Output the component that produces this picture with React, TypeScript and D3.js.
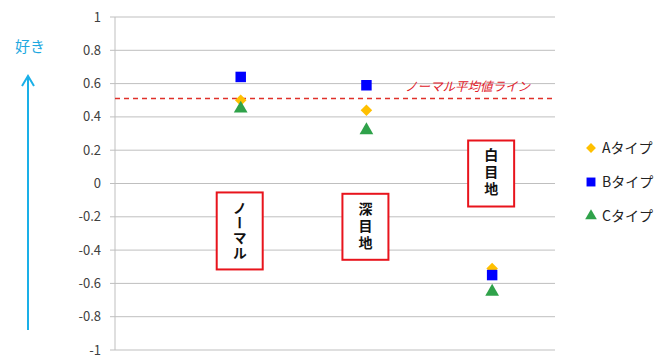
import React, { useEffect, useRef } from 'react';
import * as d3 from 'd3';

const categories = ['ノーマル', '深目地', '白目地'];
const seriesNames = ['Aタイプ', 'Bタイプ', 'Cタイプ'];
const aValues = [0.5, 0.44, -0.51];
const bValues = [0.64, 0.59, -0.55];
const cValues = [0.45, 0.32, -0.65];
const yTicks = [1, 0.8, 0.6, 0.4, 0.2, 0, -0.2, -0.4, -0.6, -0.8, -1];
const normalAverage = 0.51;
// centre of each vertical label box, in value units
const labelCenters = [-0.285, -0.26, 0.06];

const FONT = '"Noto Sans CJK JP", "Noto Sans", sans-serif';

const App = () => {
  const svgRef = useRef(null);

  useEffect(() => {
    const width = 670;
    const height = 356;
    const svg = d3.select(svgRef.current);
    svg.selectAll('*').remove();
    svg.attr('width', width).attr('height', height);

    const x = d3.scaleLinear().domain([0, 3.5]).range([115, 555]);
    const y = d3.scaleLinear().domain([-1, 1]).range([350, 17]);

    // grid
    svg.append('g')
      .selectAll('line')
      .data(yTicks)
      .enter()
      .append('line')
      .attr('x1', 110)
      .attr('x2', 555)
      .attr('y1', d => y(d))
      .attr('y2', d => y(d))
      .attr('stroke', '#bfbfbf')
      .attr('stroke-width', 1);

    svg.append('line')
      .attr('x1', 115).attr('x2', 115)
      .attr('y1', y(1)).attr('y2', y(-1))
      .attr('stroke', '#bfbfbf');

    svg.append('g')
      .selectAll('text')
      .data(yTicks)
      .enter()
      .append('text')
      .attr('x', 101)
      .attr('y', d => y(d))
      .attr('dy', '0.35em')
      .attr('text-anchor', 'end')
      .attr('font-family', FONT)
      .attr('font-size', 13)
      .attr('fill', '#404040')
      .text(d => String(d));

    // normal average line
    svg.append('line')
      .attr('x1', 115).attr('x2', 555)
      .attr('y1', y(normalAverage)).attr('y2', y(normalAverage))
      .attr('stroke', '#e0302a')
      .attr('stroke-width', 1.5)
      .attr('stroke-dasharray', '5,4');

    svg.append('text')
      .attr('x', 405)
      .attr('y', y(normalAverage) - 8)
      .attr('font-family', FONT)
      .attr('font-size', 12.5)
      .attr('font-style', 'italic')
      .attr('fill', '#e0202a')
      .text('ノーマル平均値ライン');

    // left label + arrow
    svg.append('text')
      .attr('x', 30)
      .attr('y', 52)
      .attr('text-anchor', 'middle')
      .attr('font-family', FONT)
      .attr('font-size', 15)
      .attr('fill', '#1ea8e0')
      .text('好き');
    svg.append('line')
      .attr('x1', 28).attr('x2', 28)
      .attr('y1', 330).attr('y2', 76)
      .attr('stroke', '#1ab0e8').attr('stroke-width', 2);
    svg.append('path')
      .attr('d', 'M22,86 L28,76 L34,86')
      .attr('fill', 'none')
      .attr('stroke', '#1ab0e8').attr('stroke-width', 2);

    // category label boxes (vertical text)
    const boxW = 46;
    categories.forEach((cat, i) => {
      const cx = x(i + 1) - 1;
      const n = Array.from(cat).length;
      const boxH = n > 3 ? 77 : 66;
      const cy = y(labelCenters[i]);
      const g = svg.append('g');
      g.append('rect')
        .attr('x', cx - boxW / 2)
        .attr('y', cy - boxH / 2)
        .attr('width', boxW)
        .attr('height', boxH)
        .attr('fill', '#fff')
        .attr('stroke', '#e8141c')
        .attr('stroke-width', 2);
      g.append('text')
        .attr('x', cx)
        .attr('y', cy)
        .attr('text-anchor', 'middle')
        .style('writing-mode', 'vertical-rl')
        .attr('font-family', FONT)
        .attr('font-size', 14)
        .attr('font-weight', 'bold')
        .attr('letter-spacing', n > 3 ? 1 : 3)
        .attr('fill', '#111')
        .text(cat);
    });

    // markers
    const diamond = d3.symbol().type(d3.symbolDiamond2).size(85);
    const square = d3.symbol().type(d3.symbolSquare2).size(140);
    const triangle = d3.symbol().type(d3.symbolTriangle2).size(135);

    const series = [
      { values: aValues, path: diamond(), fill: '#ffc000' },
      { values: bValues, path: square(), fill: '#0000ff' },
      { values: cValues, path: triangle(), fill: '#2fa24a' },
    ];

    series.forEach(s => {
      svg.append('g')
        .selectAll('path')
        .data(s.values)
        .enter()
        .append('path')
        .attr('d', s.path)
        .attr('transform', (d, i) => `translate(${x(i + 1)},${y(d)})`)
        .attr('fill', s.fill);
    });

    // legend
    const legendYs = [148, 182, 216];
    series.forEach((s, i) => {
      svg.append('path')
        .attr('d', s.path)
        .attr('transform', `translate(591,${legendYs[i]}) scale(0.85)`)
        .attr('fill', s.fill);
      svg.append('text')
        .attr('x', 602)
        .attr('y', legendYs[i])
        .attr('dy', '0.35em')
        .attr('font-family', FONT)
        .attr('font-size', 14)
        .attr('fill', '#222')
        .text(seriesNames[i]);
    });
  }, []);

  return <svg ref={svgRef} style={{ position: 'absolute', left: 0, top: 0 }}></svg>;
};

export default App;
